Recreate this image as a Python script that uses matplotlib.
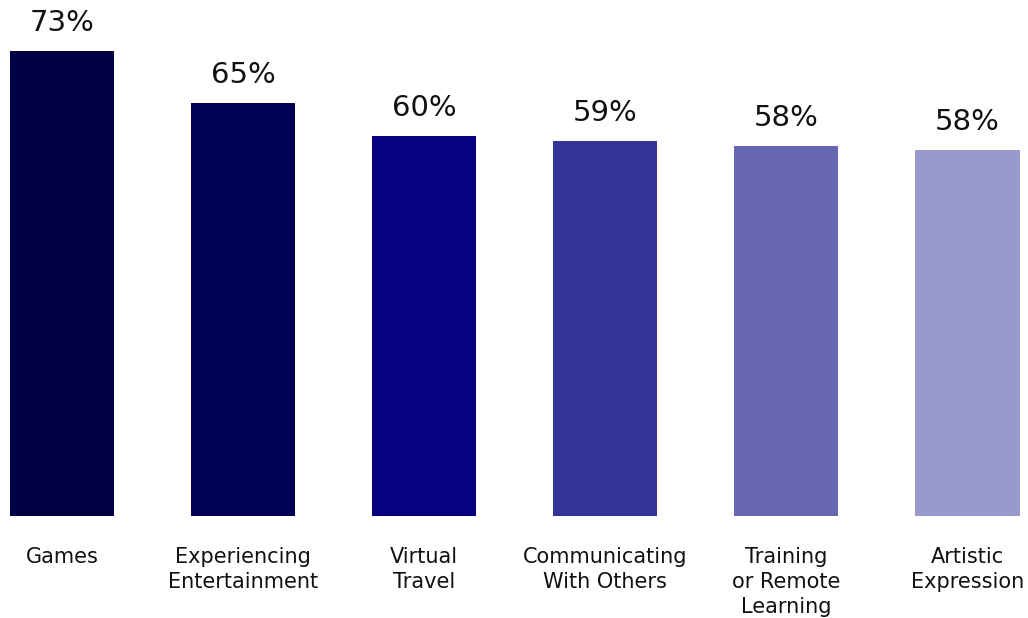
import matplotlib
matplotlib.use("Agg")
import matplotlib.pyplot as plt

categories = ["Games", "Experiencing\nEntertainment", "Virtual\nTravel",
              "Communicating\nWith Others", "Training\nor Remote\nLearning",
              "Artistic\nExpression"]
values = [73.0, 64.8, 59.7, 58.9, 58.1, 57.5]
colors = ["#000044", "#000055", "#07007F", "#333399", "#6666B3", "#9999CC"]

plt.rcParams['font.family'] = ['DejaVu Sans']

fig = plt.figure(figsize=(10.28, 6.18), dpi=100)
ax = fig.add_axes([0, 0, 1, 1])

x = list(range(len(categories)))
ax.bar(x, values, width=0.575, color=colors)

for xi, v in zip(x, values):
    ax.text(xi, v + 2.2, f"{v:.0f}%", ha="center", va="bottom",
            fontsize=21, color="#111111")

for xi, c in zip(x, categories):
    ax.text(xi, -4.8, c, ha="center", va="top", fontsize=15,
            color="#111111", linespacing=1.32)

ax.set_xlim(-0.342, 5.334)
ax.set_ylim(-16.0, 81.0)
ax.axis("off")

fig.savefig("out.png", dpi=100, facecolor="white")
